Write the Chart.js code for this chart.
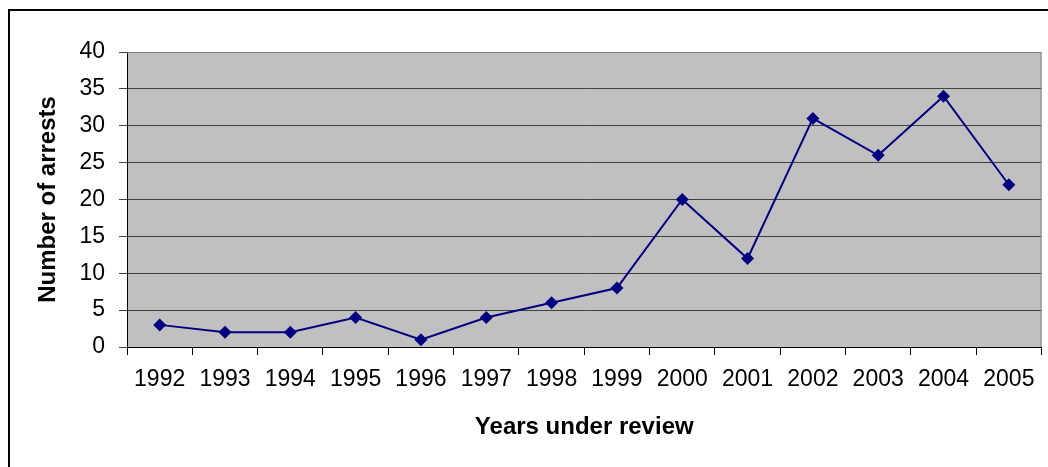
<!DOCTYPE html>
<html>
<head>
<meta charset="utf-8">
<script src="https://cdn.jsdelivr.net/npm/chart.js@4/dist/chart.umd.min.js"></script>
<style>
  html, body { margin: 0; padding: 0; background: #fff; }
  canvas { display: block; }
</style>
</head>
<body>
<canvas id="arrestsChart" width="1048" height="467"></canvas>
<script>
const years = ['1992', '1993', '1994', '1995', '1996', '1997', '1998', '1999', '2000', '2001', '2002', '2003', '2004', '2005'];
const arrests = [3, 2, 2, 4, 1, 4, 6, 8, 20, 12, 31, 26, 34, 22];
const yTicks = [0, 40, 5]; // min, max, step

// plot area fill, grey frame on top/right, outer black border
const framePlugin = {
  id: 'frame',
  beforeDraw(chart) {
    const { ctx, chartArea: a } = chart;
    ctx.save();
    ctx.fillStyle = '#c0c0c0';
    ctx.fillRect(a.left, a.top, a.right - a.left, a.bottom - a.top);
    ctx.restore();
  },
  afterDraw(chart) {
    const { ctx, chartArea: a } = chart;
    ctx.save();
    ctx.strokeStyle = '#808080';
    ctx.lineWidth = 1;
    ctx.beginPath();
    ctx.moveTo(a.left, a.top + 0.5);
    ctx.lineTo(a.right - 0.5, a.top + 0.5);
    ctx.lineTo(a.right - 0.5, a.bottom);
    ctx.stroke();
    ctx.strokeStyle = '#000';
    ctx.lineWidth = 2;
    ctx.strokeRect(9, 10, 1200, 600);
    ctx.restore();
  }
};

const ctx = document.getElementById('arrestsChart').getContext('2d');
new Chart(ctx, {
  type: 'line',
  data: {
    labels: years,
    datasets: [{
      data: arrests,
      borderColor: '#000080',
      backgroundColor: '#000080',
      borderWidth: 2,
      tension: 0,
      pointStyle: 'rectRot',
      pointRadius: 6.5,
      pointBorderWidth: 0,
      pointBackgroundColor: '#000080'
    }]
  },
  options: {
    responsive: false,
    animation: false,
    layout: { padding: { left: 30, top: 52, right: 5, bottom: 25 } },
    plugins: { legend: { display: false }, tooltip: { enabled: false } },
    scales: {
      x: {
        offset: true,
        grid: { offset: true, drawOnChartArea: false, tickLength: 8, color: '#000' },
        border: { color: '#000', width: 1 },
        ticks: { color: '#000', padding: 11, font: { family: 'Liberation Sans', size: 23 }, maxRotation: 0 },
        title: {
          display: true, text: 'Years under review', color: '#000',
          font: { family: 'Liberation Sans', size: 24, weight: 'bold' },
          padding: { top: 0, bottom: 0 }
        },
        afterFit(scale) { scale.height = 95; }
      },
      y: {
        min: yTicks[0],
        max: yTicks[1],
        grid: { tickLength: 8, color: '#404040' },
        border: { color: '#000', width: 1 },
        ticks: { stepSize: yTicks[2], color: '#000', padding: 14, font: { family: 'Liberation Sans', size: 23 } },
        title: {
          display: true, text: 'Number of arrests', color: '#000',
          font: { family: 'Liberation Sans', size: 24, weight: 'bold' },
          padding: { top: 4, bottom: 0 }
        },
        afterFit(scale) { scale.width = 97; }
      }
    }
  },
  plugins: [framePlugin]
});
</script>
</body>
</html>
